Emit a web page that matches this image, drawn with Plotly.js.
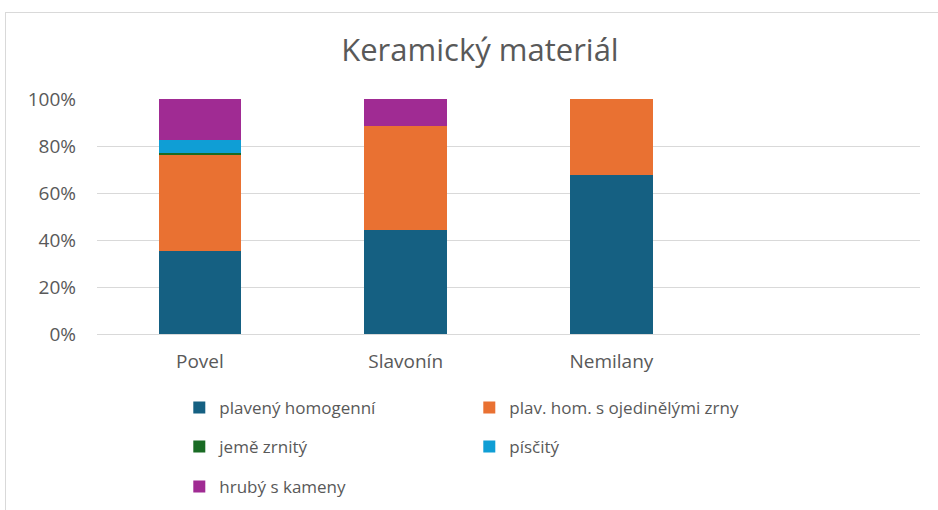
<!DOCTYPE html>
<html>
<head>
<meta charset="utf-8">
<script src="https://cdn.plot.ly/plotly-3.0.1.min.js"></script>
<style>
html,body{margin:0;padding:0;background:#fff;}
#wrap{position:relative;width:938px;height:510px;}
#chart{position:absolute;left:0;top:0;width:938px;height:510px;}
#frame{position:absolute;left:5px;top:12px;width:940px;height:510px;border-left:1px solid #d9d9d9;border-top:1px solid #d9d9d9;pointer-events:none;}
</style>
</head>
<body>
<div id="wrap"><div id="chart"></div><div id="frame"></div></div>
<script>
const categories = ["Povel", "Slavonín", "Nemilany"];
const seriesNames = ["plavený homogenní", "plav. hom. s ojedinělými zrny", "jemě zrnitý", "písčitý", "hrubý s kameny"];
const plavenyHomogenni = [0.353, 0.443, 0.678];
const plavHomZrny = [0.409, 0.443, 0.322];
const jemeZrnity = [0.009, 0, 0];
const piscity = [0.056, 0, 0];
const hrubySKameny = [0.173, 0.114, 0];
const yTickVals = [0, 0.2, 0.4, 0.6, 0.8, 1.0];
const yTickText = ["0%", "20%", "40%", "60%", "80%", "100%"];

const colors = ["#156082", "#E97132", "#196B24", "#0F9ED5", "#A02B93"];
const legendIds = ["legend", "legend", "legend2", "legend2", "legend3"];
const allValues = [plavenyHomogenni, plavHomZrny, jemeZrnity, piscity, hrubySKameny];

const FONT = "Open Sans, Liberation Sans, sans-serif";
const TXT = "#595959";

const traces = allValues.map((vals, i) => ({
  type: "bar",
  name: seriesNames[i],
  x: categories,
  y: vals,
  marker: {color: colors[i], line: {width: 0}},
  legend: legendIds[i],
  hoverinfo: "x+y+name"
}));

const legendBase = {
  orientation: "h",
  entrywidth: 245,
  entrywidthmode: "pixels",
  traceorder: "normal",
  xanchor: "left",
  yanchor: "middle",
  xref: "paper",
  yref: "container",
  x: 0.1,
  font: {family: FONT, size: 17, color: TXT},
  bgcolor: "rgba(0,0,0,0)",
  itemwidth: 30
};

const layout = {
  width: 938,
  height: 510,
  paper_bgcolor: "#ffffff",
  plot_bgcolor: "#ffffff",
  margin: {l: 97, r: 18, t: 99, b: 176, autoexpand: false},
  barmode: "stack",
  bargap: 0.6,
  title: {
    text: "Keramický materiál",
    font: {family: FONT, size: 31, color: TXT},
    x: 0.5117, xanchor: "center",
    y: 0.902, yanchor: "middle", yref: "container"
  },
  xaxis: {
    type: "category",
    categoryorder: "array",
    categoryarray: categories,
    range: [-0.5, 3.5],
    showgrid: false,
    showline: true,
    linecolor: "#d9d9d9",
    linewidth: 1,
    ticks: "",
    tickfont: {family: FONT, size: 19, color: TXT},
    ticklabelstandoff: 10,
    fixedrange: true
  },
  yaxis: {
    range: [0, 1.0],
    tickvals: yTickVals,
    ticktext: yTickText,
    showgrid: true,
    gridcolor: "#d9d9d9",
    gridwidth: 1,
    zeroline: false,
    showline: false,
    ticks: "",
    tickfont: {family: FONT, size: 19, color: TXT},
    ticklabelstandoff: 20,
    fixedrange: true
  },
  legend: Object.assign({}, legendBase, {y: 0.2}),
  legend2: Object.assign({}, legendBase, {y: 0.1235}),
  legend3: Object.assign({}, legendBase, {y: 0.0451}),
  showlegend: true
};

Plotly.newPlot("chart", traces, layout, {displayModeBar: false, staticPlot: true});
</script>
</body>
</html>
